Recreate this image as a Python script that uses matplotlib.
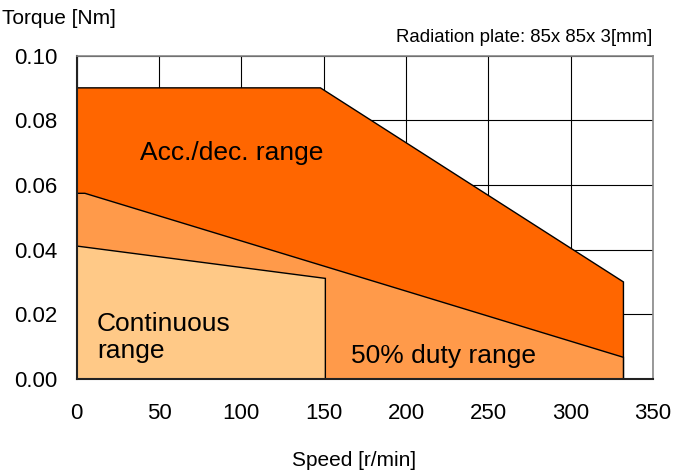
import numpy as np
import matplotlib.pyplot as plt

plt.rcParams['font.family'] = ['Liberation Sans', 'DejaVu Sans']

# Speed [r/min] / Torque [Nm] outlines
acc_speed = [0, 148, 332]
acc_torque = [0.090, 0.090, 0.030]

duty_speed = [0, 5, 332]
duty_torque = [0.0574, 0.0574, 0.0067]

cont_speed = [0, 151]
cont_torque = [0.0411, 0.0311]

x_ticks = [0, 50, 100, 150, 200, 250, 300, 350]
y_ticks = [0.00, 0.02, 0.04, 0.06, 0.08, 0.10]


def region(speed, torque):
    xs = [speed[0]] + list(speed) + [speed[-1]]
    ys = [0] + list(torque) + [0]
    return xs, ys


fig = plt.figure(figsize=(6.97, 4.76), dpi=100)
ax = fig.add_axes([0.110, 0.2038, 0.827, 0.6796])

for (sp, tq), col in [((acc_speed, acc_torque), '#ff6600'),
                      ((duty_speed, duty_torque), '#ff9a4a'),
                      ((cont_speed, cont_torque), '#ffc987')]:
    xs, ys = region(sp, tq)
    ax.fill(xs, ys, facecolor=col, edgecolor='black', linewidth=1.0, zorder=2)

ax.set_xlim(0, 350)
ax.set_ylim(0, 0.10)
ax.set_xticks(x_ticks)
ax.set_yticks(y_ticks)
ax.set_yticklabels([f'{v:.2f}' for v in y_ticks])
ax.tick_params(length=0, labelsize=16)
ax.tick_params(axis='y', pad=14)
ax.tick_params(axis='x', pad=17)
ax.grid(True, color='black', linewidth=0.8)
ax.set_axisbelow(True)
for s in ['top', 'right']:
    ax.spines[s].set_color('#888888')
    ax.spines[s].set_linewidth(1.2)
for s in ['left', 'bottom']:
    ax.spines[s].set_color('#222222')
    ax.spines[s].set_linewidth(1.5)

ax.text(38.5, 0.0700, 'Acc./dec. range', fontsize=19, va='center', zorder=3)
ax.text(12.3, 0.0128, 'Continuous\nrange', fontsize=19, va='center', linespacing=1.2, zorder=3)
ax.text(166.5, 0.0071, '50% duty range', fontsize=19, va='center', zorder=3)

fig.text(0.003, 1 - 18 / 476, 'Torque [Nm]', fontsize=15, va='center')
fig.text(652 / 697, 1 - 37 / 476, 'Radiation plate: 85x 85x 3[mm]', fontsize=13.4, ha='right', va='center')
fig.text(354 / 697, 1 - 461 / 476, 'Speed [r/min]', fontsize=15, ha='center', va='center')

fig.savefig('out.png', dpi=100)
